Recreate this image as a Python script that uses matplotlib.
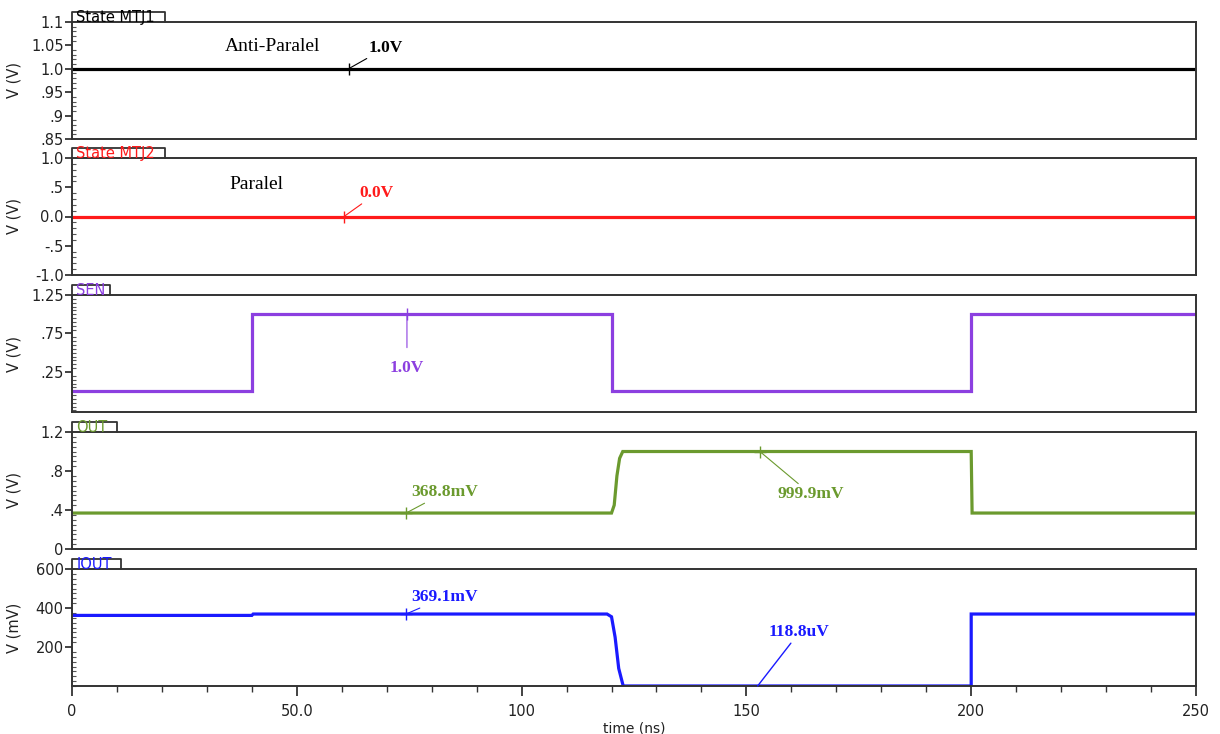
import matplotlib
matplotlib.use("Agg")
import matplotlib.pyplot as plt
from matplotlib.ticker import MultipleLocator, FixedLocator

# signal data
t_mtj1 = [0, 250]
v_mtj1 = [1.0, 1.0]

t_mtj2 = [0, 250]
v_mtj2 = [0.0, 0.0]

t_sen = [0, 40, 40, 120, 120, 200, 200, 250]
v_sen = [0.0, 0.0, 1.0, 1.0, 0.0, 0.0, 1.0, 1.0]

t_out = [0, 120, 120.6, 121.2, 121.8, 122.5, 200, 200.2, 250]
v_out = [0.3688, 0.3688, 0.45, 0.75, 0.93, 0.9999, 0.9999, 0.3688, 0.3688]

t_iout = [0, 40, 40.3, 119, 120, 120.8, 121.6, 122.6, 200, 200, 250]
v_iout = [362, 362, 369.1, 369.1, 355, 250, 90, 0.1188, 0.1188, 369.1, 369.1]

names = ["State MTJ1", "State MTJ2", "SEN", "OUT", "IOUT"]
colors = ["#000000", "#ff1a1a", "#8c3fe0", "#6b9a2e", "#1a1aff"]
tab_px = [93, 93, 38, 45, 49]

fig = plt.figure(figsize=(12.2, 7.34), dpi=100)
W, H = 1220, 734
left, right = 72, 1196
tops = [22, 158, 295, 432, 569]
ph = 117

axes = []
for top in tops:
    ax = fig.add_axes([left / W, 1 - (top + ph) / H, (right - left) / W, ph / H])
    axes.append(ax)

series = [(t_mtj1, v_mtj1), (t_mtj2, v_mtj2), (t_sen, v_sen), (t_out, v_out), (t_iout, v_iout)]
for ax, (t, v), c in zip(axes, series, colors):
    ax.plot(t, v, color=c, lw=2.3, solid_joinstyle="miter")
    ax.set_xlim(0, 250)

# y ranges and ticks
axes[0].set_ylim(0.85, 1.1)
axes[0].yaxis.set_major_locator(FixedLocator([0.85, 0.9, 0.95, 1.0, 1.05, 1.1]))
axes[0].set_yticklabels([".85", ".9", ".95", "1.0", "1.05", "1.1"])
axes[0].yaxis.set_minor_locator(MultipleLocator(0.01))

axes[1].set_ylim(-1.0, 1.0)
axes[1].yaxis.set_major_locator(FixedLocator([-1.0, -0.5, 0.0, 0.5, 1.0]))
axes[1].set_yticklabels(["-1.0", "-.5", "0.0", ".5", "1.0"])
axes[1].yaxis.set_minor_locator(MultipleLocator(0.1))

axes[2].set_ylim(-0.27, 1.25)
axes[2].yaxis.set_major_locator(FixedLocator([0.25, 0.75, 1.25]))
axes[2].set_yticklabels([".25", ".75", "1.25"])
axes[2].yaxis.set_minor_locator(MultipleLocator(0.05))

axes[3].set_ylim(0, 1.2)
axes[3].yaxis.set_major_locator(FixedLocator([0, 0.4, 0.8, 1.2]))
axes[3].set_yticklabels(["0", ".4", ".8", "1.2"])
axes[3].yaxis.set_minor_locator(MultipleLocator(0.05))

axes[4].set_ylim(0, 600)
axes[4].yaxis.set_major_locator(FixedLocator([200, 400, 600]))
axes[4].set_yticklabels(["200", "400", "600"])
axes[4].yaxis.set_minor_locator(MultipleLocator(25))

for i, ax in enumerate(axes):
    for s in ax.spines.values():
        s.set_color("#333333")
        s.set_linewidth(1.4)
    ax.tick_params(axis="y", which="major", direction="out", length=5, width=1.2,
                   labelsize=10.5, colors="#222222", pad=1)
    ax.tick_params(axis="y", which="minor", direction="in", length=3, width=0.8,
                   colors="#555555")
    ax.set_ylabel("V (mV)" if i == 4 else "V (V)", fontsize=10.5, color="#222222")
    ax.yaxis.set_label_coords(-0.045, 0.5)
    if i < 4:
        ax.set_xticks([])
    # label tab on top left
    h = 10 / ph
    w = tab_px[i] / (right - left)
    ax.plot([0, 0, w, w], [1, 1 + h, 1 + h, 1], transform=ax.transAxes,
            color="#333333", lw=1.3, clip_on=False)
    ax.text(0.004, 1 + h * 0.45, names[i], transform=ax.transAxes, color=colors[i],
            fontsize=10.5, va="center", ha="left", clip_on=False)

axes[4].set_xticks([0, 50, 100, 150, 200, 250])
axes[4].set_xticklabels(["0", "50.0", "100", "150", "200", "250"])
axes[4].xaxis.set_minor_locator(MultipleLocator(10))
axes[4].tick_params(axis="x", which="major", direction="out", length=7, width=1.2,
                    labelsize=10.5, colors="#222222", pad=6)
axes[4].tick_params(axis="x", which="minor", direction="out", length=4, width=1.0,
                    colors="#333333")
axes[4].set_xlabel("time (ns)", fontsize=10, color="#222222", labelpad=2)

serif = "Liberation Serif"
tick = dict(marker="+", ms=9, mew=1.0)
fs = 12.5

# annotations
axes[0].text(34, 1.048, "Anti-Paralel", family=serif, fontsize=14, ha="left", va="center")
axes[0].plot([61.5], [1.0], color="#000000", **tick)
axes[0].annotate("1.0V", xy=(61.5, 1.0), xytext=(66, 1.045), family=serif, fontsize=fs,
                 fontweight="bold", va="center", ha="left",
                 arrowprops=dict(arrowstyle="-", color="#000000", lw=0.8, shrinkA=0, shrinkB=0))

axes[1].text(35, 0.55, "Paralel", family=serif, fontsize=14, ha="left", va="center")
axes[1].plot([60.5], [0.0], color=colors[1], **tick)
axes[1].annotate("0.0V", xy=(60.5, 0.0), xytext=(64, 0.4), family=serif, fontsize=fs,
                 fontweight="bold", color=colors[1], va="center", ha="left",
                 arrowprops=dict(arrowstyle="-", color=colors[1], lw=0.8, shrinkA=0, shrinkB=0))

axes[2].plot([74.5], [1.0], color=colors[2], **tick)
axes[2].annotate("1.0V", xy=(74.5, 1.0), xytext=(74.5, 0.3), family=serif, fontsize=fs,
                 fontweight="bold", color=colors[2], va="center", ha="center",
                 arrowprops=dict(arrowstyle="-", color=colors[2], lw=0.8, shrinkA=7, shrinkB=0))

axes[3].plot([74.3], [0.3688], color=colors[3], **tick)
axes[3].annotate("368.8mV", xy=(74.3, 0.3688), xytext=(75.5, 0.58), family=serif, fontsize=fs,
                 fontweight="bold", color=colors[3], va="center", ha="left",
                 arrowprops=dict(arrowstyle="-", color=colors[3], lw=0.8, shrinkA=0, shrinkB=0))
axes[3].plot([153], [0.9999], color=colors[3], **tick)
axes[3].annotate("999.9mV", xy=(153, 0.9999), xytext=(157, 0.56), family=serif, fontsize=fs,
                 fontweight="bold", color=colors[3], va="center", ha="left",
                 arrowprops=dict(arrowstyle="-", color=colors[3], lw=0.8, shrinkA=0, shrinkB=0))

axes[4].plot([74.3], [369.1], color=colors[4], **tick)
axes[4].annotate("369.1mV", xy=(74.3, 369.1), xytext=(75.5, 455), family=serif, fontsize=fs,
                 fontweight="bold", color=colors[4], va="center", ha="left",
                 arrowprops=dict(arrowstyle="-", color=colors[4], lw=0.8, shrinkA=0, shrinkB=0))
axes[4].annotate("118.8uV", xy=(152.5, 0.1188), xytext=(155, 275), family=serif, fontsize=fs,
                 fontweight="bold", color=colors[4], va="center", ha="left",
                 arrowprops=dict(arrowstyle="-", color=colors[4], lw=1.0, shrinkA=0, shrinkB=0))

fig.savefig("out.png", dpi=100, facecolor="white")
